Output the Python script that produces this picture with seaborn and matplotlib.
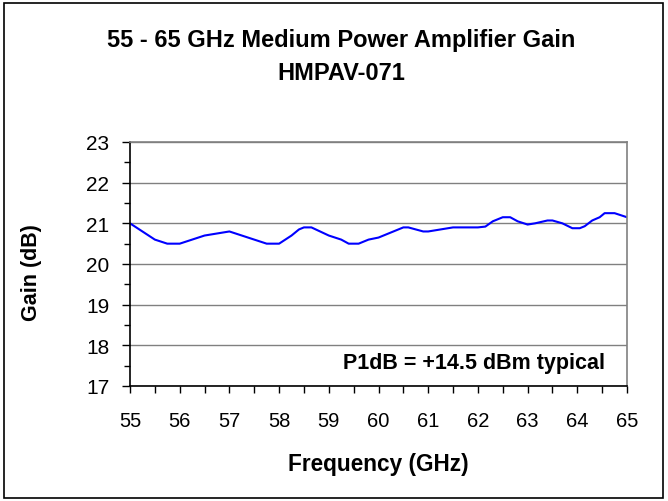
import matplotlib
matplotlib.use("Agg")
import matplotlib.pyplot as plt
import seaborn as sns
import pandas as pd
from matplotlib.patches import Rectangle
from matplotlib.ticker import MultipleLocator

freq_ghz = [55.0, 55.5, 55.75, 56.0, 56.5, 57.0, 57.75, 58.0, 58.25, 58.4, 58.5, 58.65,
            59.0, 59.25, 59.4, 59.6, 59.8, 60.0, 60.5, 60.6, 60.9, 61.0, 61.5, 62.0,
            62.15, 62.3, 62.5, 62.65, 62.8, 63.0, 63.15, 63.4, 63.5, 63.7, 63.9, 64.05,
            64.15, 64.3, 64.45, 64.55, 64.75, 65.0]
gain_db = [21.0, 20.6, 20.5, 20.5, 20.7, 20.8, 20.5, 20.5, 20.7, 20.85, 20.9, 20.9,
           20.7, 20.6, 20.5, 20.5, 20.6, 20.65, 20.9, 20.9, 20.8, 20.8, 20.9, 20.9,
           20.92, 21.05, 21.15, 21.15, 21.05, 20.97, 21.0, 21.07, 21.07, 21.0, 20.88, 20.88,
           20.93, 21.07, 21.15, 21.25, 21.25, 21.15]
x_ticks = [55, 56, 57, 58, 59, 60, 61, 62, 63, 64, 65]
y_ticks = [17, 18, 19, 20, 21, 22, 23]

title_line1 = "55 - 65 GHz Medium Power Amplifier Gain"
title_line2 = "HMPAV-071"
xlabel_text = "Frequency (GHz)"
ylabel_text = "Gain (dB)"
note_text = "P1dB = +14.5 dBm typical"

df = pd.DataFrame({"freq": freq_ghz, "gain": gain_db})

sns.set_style("white")
plt.rcParams["font.family"] = ["Liberation Sans", "DejaVu Sans"]
plt.rcParams["text.color"] = "black"
plt.rcParams["axes.labelcolor"] = "black"
plt.rcParams["xtick.color"] = "black"
plt.rcParams["ytick.color"] = "black"

fig = plt.figure(figsize=(6.68, 5.02), dpi=100)
ax = fig.add_axes([130/668, 1-387/502, (627-130)/668, (387-143)/502])

sns.lineplot(data=df, x="freq", y="gain", ax=ax, color="#0000FF", linewidth=1.5)

ax.set_xlim(55, 65)
ax.set_ylim(17, 23)
ax.set_xticks(x_ticks)
ax.set_yticks(y_ticks)
ax.xaxis.set_minor_locator(MultipleLocator(0.5))
ax.yaxis.set_minor_locator(MultipleLocator(0.5))
ax.set_xticklabels([str(v) for v in x_ticks], fontsize=14.5)
ax.set_yticklabels([str(v) for v in y_ticks], fontsize=15)
ax.tick_params(axis="x", which="both", direction="out", length=5, width=1, color="black", bottom=True)
ax.tick_params(axis="x", which="major", pad=13)
ax.tick_params(axis="y", which="major", direction="out", length=6, width=1, color="black", left=True, pad=9)
ax.tick_params(axis="y", which="minor", direction="out", length=4, width=1, color="black", left=True)

ax.grid(axis="y", which="major", color="#808080", linewidth=1)
ax.set_axisbelow(True)
for s in ["top", "right"]:
    ax.spines[s].set_color("#808080")
    ax.spines[s].set_linewidth(1.2)
for s in ["left", "bottom"]:
    ax.spines[s].set_color("black")
    ax.spines[s].set_linewidth(1.2)

ax.set_xlabel(xlabel_text, fontsize=16.3, fontweight="bold")
ax.set_ylabel(ylabel_text, fontsize=15.5, fontweight="bold")
ax.xaxis.set_label_coords(0.5, (387-465)/244)
ax.yaxis.set_label_coords((32-130)/497, 0.47)
ax.xaxis.label.set_verticalalignment("center")
ax.yaxis.label.set_verticalalignment("center")

ax.text(605/668, 1-364/502, note_text, transform=fig.transFigure, ha="right", va="center",
        fontsize=15.5, fontweight="bold")

fig.text(341/668, 1-40/502, title_line1, ha="center", va="center",
         fontsize=17, fontweight="bold")
fig.text(341/668, 1-73/502, title_line2, ha="center", va="center",
         fontsize=17, fontweight="bold")

fig.patches.append(Rectangle((4/668, 3/502), 659/668, 495/502, transform=fig.transFigure,
                             fill=False, edgecolor="black", linewidth=1.2))

fig.savefig("out.png", dpi=100)
